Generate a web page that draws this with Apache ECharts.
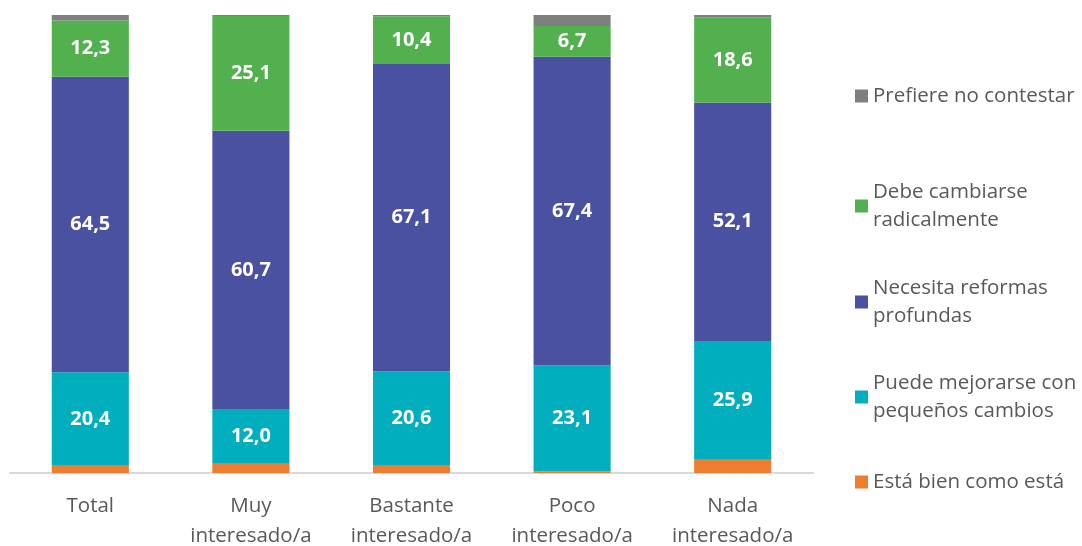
<!DOCTYPE html>
<html>
<head>
<meta charset="utf-8">
<script src="https://cdn.jsdelivr.net/npm/echarts@6/dist/echarts.min.js"></script>
<style>
  html, body { margin: 0; padding: 0; background: #fff; }
  #chart { width: 1082px; height: 546px; }
</style>
</head>
<body>
<div id="chart"></div>
<script>
// categorias y valores (%)
const categories = ['Total', 'Muy\ninteresado/a', 'Bastante\ninteresado/a', 'Poco\ninteresado/a', 'Nada\ninteresado/a'];
const estaBien = [1.6, 2.0, 1.6, 0.4, 2.9];
const puedeMejorarse = [20.4, 12.0, 20.6, 23.1, 25.9];
const necesitaReformas = [64.5, 60.7, 67.1, 67.4, 52.1];
const debeCambiarse = [12.3, 25.1, 10.4, 6.7, 18.6];
const prefiereNo = [1.2, 0.2, 0.3, 2.4, 0.5];

const font = 'Open Sans';

function fmt(p) {
    return p.value.toFixed(1).replace('.', ',');
}

function serie(name, data, color, showLabel) {
    return {
        name: name,
        type: 'bar',
        stack: 'total',
        data: data,
        barWidth: '48%',
        itemStyle: { color: color },
        label: {
            show: showLabel,
            position: 'inside',
            color: '#fff',
            fontWeight: 'bold',
            fontFamily: font,
            fontSize: 20,
            formatter: fmt
        }
    };
}

// una leyenda por elemento para colocarlas como en el original
function leyenda(name, top) {
    return {
        data: [name],
        orient: 'vertical',
        left: 850,
        top: top,
        itemWidth: 13,
        itemHeight: 13,
        itemGap: 0,
        icon: 'rect',
        selectedMode: false,
        formatter: function (n) {
            return n.replace('cambiarse ', 'cambiarse\n')
                .replace('reformas ', 'reformas\n')
                .replace('con ', 'con\n');
        },
        textStyle: {
            color: '#595959',
            fontFamily: font,
            fontSize: 20.5,
            lineHeight: 28
        }
    };
}

let myChart = echarts.init(document.getElementById('chart'));
myChart.setOption({
    animation: false,
    grid: {
        left: 10,
        right: 269,
        top: 15,
        bottom: 73,
        outerBoundsMode: 'none'
    },
    legend: [
        leyenda('Prefiere no contestar', 77),
        leyenda('Debe cambiarse radicalmente', 173),
        leyenda('Necesita reformas profundas', 269),
        leyenda('Puede mejorarse con pequeños cambios', 364),
        leyenda('Está bien como está', 463)
    ],
    xAxis: {
        type: 'category',
        data: categories,
        axisTick: { show: false },
        axisLine: { lineStyle: { color: '#d9d9d9', width: 2 } },
        axisLabel: {
            color: '#595959',
            fontFamily: font,
            fontSize: 20.5,
            lineHeight: 30,
            margin: 18
        }
    },
    yAxis: {
        type: 'value',
        min: 0,
        max: 100,
        show: false,
        splitLine: { show: false }
    },
    series: [
        serie('Está bien como está', estaBien, '#ed7d31', false),
        serie('Puede mejorarse con pequeños cambios', puedeMejorarse, '#00aebd', true),
        serie('Necesita reformas profundas', necesitaReformas, '#4a51a0', true),
        serie('Debe cambiarse radicalmente', debeCambiarse, '#52b04f', true),
        serie('Prefiere no contestar', prefiereNo, '#7f7f7f', false)
    ]
});
</script>
</body>
</html>
